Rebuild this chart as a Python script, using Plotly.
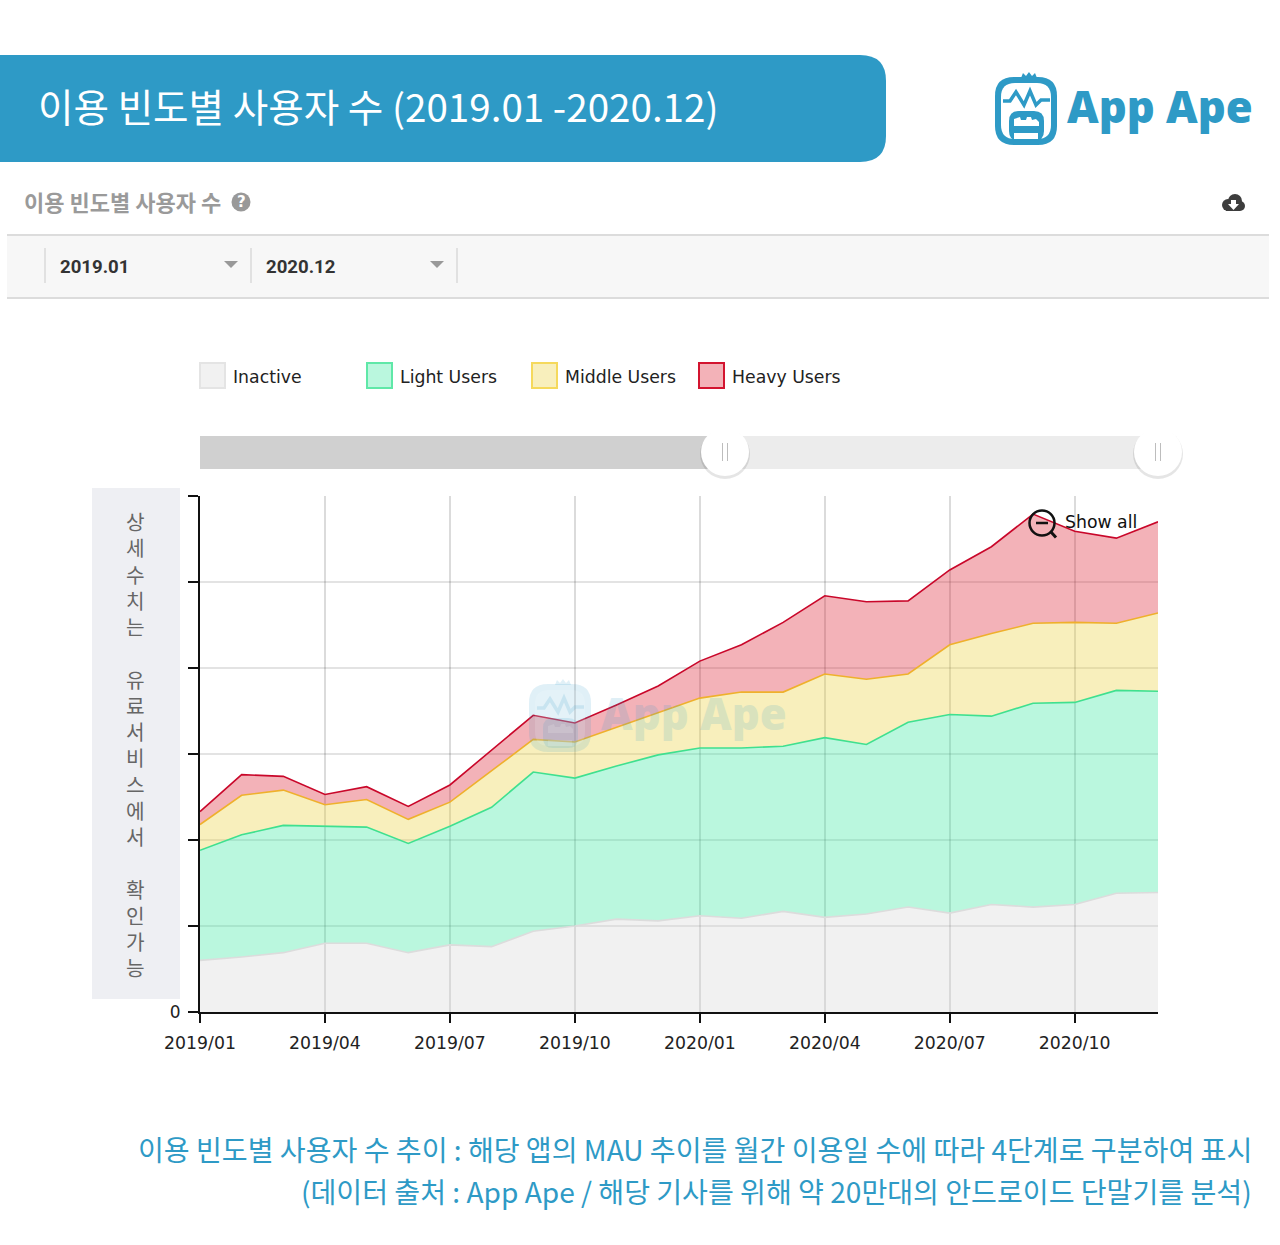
import plotly.graph_objects as go

# chart values, one layer per user group (the y axis has no readable unit, 100 = one gridline)
months = ["2019/01", "2019/02", "2019/03", "2019/04", "2019/05", "2019/06",
          "2019/07", "2019/08", "2019/09", "2019/10", "2019/11", "2019/12",
          "2020/01", "2020/02", "2020/03", "2020/04", "2020/05", "2020/06",
          "2020/07", "2020/08", "2020/09", "2020/10", "2020/11", "2020/12"]
inactive = [60, 64, 69, 80, 80, 69, 78, 76, 94, 100, 108, 106,
            112, 109, 117, 110, 114, 122, 115, 125, 122, 125, 138, 139]
light = [128, 142, 148, 136, 135, 127, 138, 162, 185, 172, 178, 193,
         195, 198, 192, 209, 197, 215, 231, 219, 237, 235, 236, 234]
middle = [30, 46, 41, 25, 32, 28, 28, 43, 38, 42, 45, 49,
          58, 65, 63, 74, 76, 56, 81, 96, 93, 93, 78, 91]
heavy = [15, 24, 16, 12, 15, 15, 20, 24, 28, 22, 26, 31,
         43, 55, 81, 91, 90, 85, 87, 101, 127, 106, 99, 106]

series_names = ["Inactive", "Light Users", "Middle Users", "Heavy Users"]
x_ticks = ["2019/01", "2019/04", "2019/07", "2019/10", "2020/01", "2020/04", "2020/07", "2020/10"]
y_ticks = [0, 100, 200, 300, 400, 500, 600]
y_tick_labels = ["0", "", "", "", "", "", ""]
note_chars = ["상", "세", "수", "치", "는", "\u00a0", "유", "료", "서", "비", "스", "에", "서", "\u00a0", "확", "인", "가", "능"]

line_colors = ["#dcdcdc", "#3fe08f", "#efb02c", "#c9072a"]
fill_colors = ["rgba(215,215,215,0.35)", "rgba(58,232,161,0.35)",
               "rgba(235,209,63,0.35)", "rgba(221,35,52,0.35)"]
legend_fills = ["#f1f1f1", "#baf7de", "#f8efbc", "#f3b2b8"]
legend_lines = ["#e4e4e4", "#5fe8a8", "#f5d95c", "#d3142f"]
legend_x = [200, 367, 532, 699]

BLUE = "#2e9ac6"
KR = "Noto Sans CJK KR"
LATIN = "DejaVu Sans"

# plot area in page pixels
L, R, T, B = 200, 1158, 496, 1012


def px(x):
    return (x - L) / (R - L)


def py(y):
    return (B - y) / (B - T)


def pt(x, y):
    return f"{px(x):.5f},{py(y):.5f}"


def path(points, close=True):
    s = "M " + " L ".join(pt(x, y) for x, y in points)
    return s + (" Z" if close else "")


def round_box(x0, y0, x1, y1, r):
    return (f"M {pt(x0 + r, y0)} L {pt(x1 - r, y0)} Q {pt(x1, y0)} {pt(x1, y0 + r)} "
            f"L {pt(x1, y1 - r)} Q {pt(x1, y1)} {pt(x1 - r, y1)} "
            f"L {pt(x0 + r, y1)} Q {pt(x0, y1)} {pt(x0, y1 - r)} "
            f"L {pt(x0, y0 + r)} Q {pt(x0, y0)} {pt(x0 + r, y0)} Z")


shapes = []
annotations = []


def rect(x0, y0, x1, y1, fill, line=None, width=0, layer="below", opacity=1):
    shapes.append(dict(type="rect", xref="paper", yref="paper", x0=px(x0), x1=px(x1), y0=py(y0), y1=py(y1),
                       fillcolor=fill, line=dict(color=line or fill, width=width), layer=layer, opacity=opacity))


def circle(cx, cy, r, fill, line=None, width=0, layer="below", opacity=1):
    shapes.append(dict(type="circle", xref="paper", yref="paper", x0=px(cx - r), x1=px(cx + r),
                       y0=py(cy - r), y1=py(cy + r), fillcolor=fill,
                       line=dict(color=line or fill, width=width), layer=layer, opacity=opacity))


def draw(d, fill="rgba(0,0,0,0)", line=None, width=0, layer="below", opacity=1):
    shapes.append(dict(type="path", xref="paper", yref="paper", path=d, fillcolor=fill,
                       line=dict(color=line or "rgba(0,0,0,0)", width=width), layer=layer, opacity=opacity))


def text(x, y, s, size, color, family=LATIN, anchor="left", weight=400, opacity=1):
    annotations.append(dict(x=px(x), y=py(y), xref="paper", yref="paper", text=s, showarrow=False,
                            xanchor=anchor, yanchor="middle", align=anchor, opacity=opacity,
                            font=dict(family=family, size=size, color=color, weight=weight)))


def logo(dx, dy, opacity, layer):
    draw(path([(1021 + dx, 78 + dy), (1023 + dx, 73 + dy), (1026 + dx, 76 + dy), (1029 + dx, 72 + dy),
               (1032 + dx, 76 + dy), (1035 + dx, 73 + dy), (1037 + dx, 78 + dy)]),
         fill=BLUE, layer=layer, opacity=opacity)
    draw(round_box(995 + dx, 77 + dy, 1057 + dx, 145 + dy, 19), fill=BLUE, layer=layer, opacity=opacity)
    draw(round_box(1001 + dx, 83 + dy, 1051 + dx, 139 + dy, 14), fill="#ffffff", layer=layer, opacity=opacity)
    zig = [(1003, 101), (1010, 101), (1016, 92), (1024, 105), (1030, 91), (1036, 105), (1041, 100), (1050, 100)]
    draw(path([(x + dx, y + dy) for x, y in zig], close=False), line=BLUE, width=3.5, layer=layer, opacity=opacity)
    draw(round_box(1009 + dx, 111 + dy, 1044 + dx, 141 + dy, 10), fill=BLUE, layer=layer, opacity=opacity)
    teeth = [(1014, 126), (1014, 119), (1020, 117), (1021, 120), (1026, 120), (1027, 117),
             (1031, 117), (1032, 120), (1036, 119), (1039, 122), (1039, 126)]
    draw(path([(x + dx, y + dy) for x, y in teeth]), fill="#ffffff", layer=layer, opacity=opacity)
    rect(1014 + dx, 133 + dy, 1038 + dx, 139 + dy, "#ffffff", layer=layer, opacity=opacity)
    text(1065 + dx, 106 + dy, "App Ape", 43.6, BLUE, family="Open Sans", weight=800, opacity=opacity)


# header banner
draw(f"M {pt(-2, 55)} L {pt(860, 55)} Q {pt(886, 55)} {pt(886, 81)} L {pt(886, 136)} "
     f"Q {pt(886, 162)} {pt(860, 162)} L {pt(-2, 162)} Z", fill=BLUE)
text(36, 105, "이용 빈도별 사용자 수 (2019.01 -2020.12)", 38.6, "#ffffff", family=KR, weight=400)
logo(0, 0, 1, "below")

# section heading
text(22, 201, "이용 빈도별 사용자 수", 22, "#9a9a9a", family=KR, weight=700)
circle(241, 202, 9.5, "#999999")
text(241, 202, "?", 15, "#ffffff", family=LATIN, anchor="center", weight=700)
# download cloud
circle(1228, 205, 6, "#3d3d3d")
circle(1235, 201, 7, "#3d3d3d")
circle(1240, 206, 5, "#3d3d3d")
rect(1226, 205, 1240, 211, "#3d3d3d")
draw(path([(1231, 200), (1236, 200), (1236, 204), (1239, 204), (1233.5, 210), (1228, 204), (1231, 204)]), fill="#ffffff")

# date filter bar
rect(7, 235, 1269, 298, "#f7f7f7")
rect(7, 234, 1269, 236, "#dcdcdc")
rect(7, 297, 1269, 299, "#dcdcdc")
for x in [45, 251, 457]:
    rect(x - 0.5, 248, x + 0.5, 283, "#cccccc")
text(58, 267, "2019.01", 18.6, "#333333", family="Roboto", weight=700)
text(264, 267, "2020.12", 18.6, "#333333", family="Roboto", weight=700)
for x in [231, 437]:
    draw(path([(x - 7, 261), (x + 7, 261), (x, 268)]), fill="#999999")

# legend
for i, name in enumerate(series_names):
    rect(legend_x[i], 363, legend_x[i] + 25, 388, legend_fills[i], line=legend_lines[i], width=2)
    text(legend_x[i] + 31, 377, name, 17.3, "#222222")

# range slider
rect(200, 436, 725, 469, "#d0d0d0")
rect(725, 436, 1158, 469, "#ececec")
for x in [725, 1158]:
    circle(x, 454, 25, "rgba(0,0,0,0.10)")
    circle(x, 452, 24, "#ffffff")
    rect(x - 3, 443, x - 2, 461, "#bdbdbd")
    rect(x + 2, 443, x + 3, 461, "#bdbdbd")

# side note panel
rect(92, 488, 180, 999, "#eeeff3")
text(135, 744.5, "<br>".join(note_chars), 20.2, "#666666", family=KR, anchor="center", weight=400)

# show all button
circle(1042, 523, 12.5, "rgba(0,0,0,0)", line="#111111", width=2.5, layer="above")
draw(path([(1051, 532), (1056, 537.5)], close=False), line="#111111", width=3, layer="above")
draw(path([(1036, 523), (1048, 523)], close=False), line="#111111", width=2.5, layer="above")
text(1063, 522, "Show all", 17.3, "#111111")

# watermark
logo(-466, 607, 0.15, "above")

# footer note
text(1254, 1148, "이용 빈도별 사용자 수 추이 : 해당 앱의 MAU 추이를 월간 이용일 수에 따라 4단계로 구분하여 표시",
     28.1, BLUE, family=KR, anchor="right", weight=400)
text(1254, 1190, "(데이터 출처 : App Ape / 해당 기사를 위해 약 20만대의 안드로이드 단말기를 분석)",
     28.1, BLUE, family=KR, anchor="right", weight=400)

fig = go.Figure()
for i, values in enumerate([inactive, light, middle, heavy]):
    fig.add_trace(go.Scatter(
        x=months, y=values, name=series_names[i], mode="lines", stackgroup="one",
        line=dict(color=line_colors[i], width=1.6), fillcolor=fill_colors[i],
        showlegend=False,
    ))

fig.update_layout(
    width=1280, height=1245,
    margin=dict(l=L, r=1280 - R, t=T, b=1245 - B, pad=0),
    paper_bgcolor="#ffffff", plot_bgcolor="#ffffff",
    shapes=shapes, annotations=annotations,
    showlegend=False,
)
fig.update_xaxes(
    type="category", categoryorder="array", categoryarray=months, range=[0, len(months) - 1],
    tickvals=x_ticks, ticktext=x_ticks,
    ticks="outside", ticklen=9, tickwidth=1.5, tickcolor="#111111",
    showline=True, linecolor="#111111", linewidth=2,
    showgrid=True, gridcolor="rgba(0,0,0,0.14)", gridwidth=2, zeroline=False,
    tickfont=dict(family=LATIN, size=17.3, color="#222222"), ticklabelstandoff=5,
)
fig.update_yaxes(
    range=[0, 600], tickvals=y_ticks, ticktext=y_tick_labels,
    ticks="outside", ticklen=10, tickwidth=1.5, tickcolor="#111111",
    showline=True, linecolor="#111111", linewidth=2,
    showgrid=True, gridcolor="rgba(0,0,0,0.11)", gridwidth=2, zeroline=False,
    tickfont=dict(family=LATIN, size=17, color="#222222"), ticklabelstandoff=4,
)

fig.write_html("out.html", config={"displayModeBar": False},
               post_script="document.body.style.margin='0';")
